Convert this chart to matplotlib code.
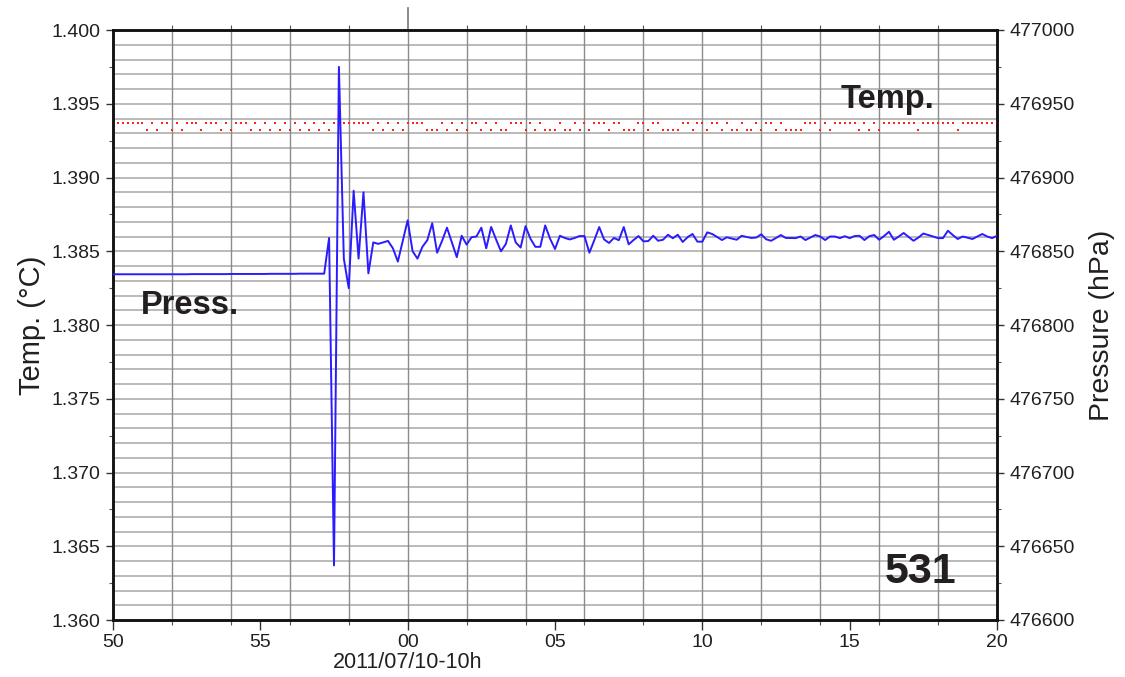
import numpy as np
import matplotlib
matplotlib.use("Agg")
import matplotlib.pyplot as plt
import matplotlib.transforms as mtransforms
from matplotlib.ticker import MultipleLocator, FixedLocator

plt.rcParams['font.family'] = ['Liberation Sans', 'DejaVu Sans']

# ---- data (10-second samples from 09:50:00 to 10:20:00) ----
x_tick_labels = ['50', '55', '00', '05', '10', '15', '20']
x_label = '2011/07/10-10h'

pressure_hpa = [
    476834.4, 476834.4, 476834.4, 476834.4, 476834.4, 476834.4, 476834.4, 476834.4, 476834.4, 476834.4,
    476834.4, 476834.4, 476834.4, 476834.4, 476834.4, 476834.4, 476834.5, 476834.5, 476834.5, 476834.5,
    476834.5, 476834.5, 476834.5, 476834.5, 476834.6, 476834.6, 476834.6, 476834.6, 476834.6, 476834.6,
    476834.6, 476834.6, 476834.7, 476834.7, 476834.7, 476834.7, 476834.7, 476834.7, 476834.8, 476834.8,
    476834.8, 476834.8, 476834.8, 476834.8,
    476859.0, 476637.0, 476975.0, 476845.0, 476825.0, 476891.0, 476845.0, 476890.0, 476835.0, 476856.0,
    476855.0, 476856.0, 476857.0, 476852.0, 476843.0, 476857.0, 476871.0, 476850.0, 476845.0, 476853.0,
    476857.5, 476869.0, 476849.0, 476857.0, 476866.0, 476856.0, 476846.0, 476860.5, 476854.5, 476859.5,
    476860.0, 476866.0, 476852.0, 476866.5, 476858.0, 476850.0, 476855.0, 476867.5, 476856.0, 476852.5,
    476867.0, 476858.5, 476853.0, 476853.0, 476867.5, 476858.5, 476851.5, 476860.5, 476859.0, 476858.0,
    476859.0, 476860.3, 476860.3, 476849.0, 476857.5, 476866.4, 476858.0, 476855.6, 476859.0, 476857.5,
    476866.4, 476854.7, 476857.6, 476860.3, 476856.7, 476856.9, 476860.5, 476857.1, 476857.8, 476861.2,
    476858.8, 476861.2, 476856.3, 476859.5, 476861.7, 476856.5, 476856.5, 476862.8, 476861.7, 476859.7,
    476857.6, 476859.5, 476858.6, 476857.8, 476860.5, 476859.7, 476859.0, 476859.3, 476861.5, 476858.1,
    476857.1, 476859.0, 476861.0, 476859.0, 476859.0, 476858.9, 476860.0, 476857.6, 476859.3, 476861.0,
    476860.0, 476857.6, 476860.0, 476860.0, 476858.9, 476860.2, 476858.9, 476860.3, 476860.5, 476857.6,
    476860.2, 476861.0, 476857.8, 476860.3, 476863.2, 476857.8, 476860.0, 476862.4, 476859.7, 476857.1,
    476859.3, 476862.0, 476861.0, 476860.0, 476858.9, 476858.9, 476863.9, 476861.0, 476858.3, 476860.0,
    476859.2, 476858.3, 476860.0, 476861.7, 476860.0, 476858.9, 476860.5,
]

T_HI = 1.39367
T_LO = 1.39320
temp_c = [
    T_HI, T_HI, T_HI, T_HI, T_HI, T_HI, T_HI, T_LO, T_HI, T_LO,   # 0-9
    T_HI, T_HI, T_LO, T_HI, T_LO, T_HI, T_HI, T_HI, T_LO, T_HI,   # 10-19
    T_HI, T_HI, T_LO, T_HI, T_LO, T_HI, T_HI, T_HI, T_LO, T_HI,   # 20-29
    T_LO, T_HI, T_LO, T_HI, T_LO, T_HI, T_LO, T_HI, T_LO, T_HI,   # 30-39
    T_LO, T_HI, T_LO, T_HI, T_LO, T_HI, T_HI, T_HI, T_HI, T_HI,   # 40-49
    T_HI, T_HI, T_HI, T_LO, T_HI, T_LO, T_HI, T_LO, T_HI, T_LO,   # 50-59
    T_HI, T_HI, T_HI, T_HI, T_LO, T_LO, T_LO, T_HI, T_LO, T_HI,   # 60-69
    T_LO, T_HI, T_LO, T_HI, T_HI, T_LO, T_HI, T_LO, T_HI, T_LO,   # 70-79
    T_LO, T_HI, T_HI, T_HI, T_LO, T_HI, T_LO, T_HI, T_LO, T_LO,   # 80-89
    T_LO, T_HI, T_LO, T_LO, T_HI, T_LO, T_HI, T_LO, T_HI, T_HI,   # 90-99
    T_HI, T_LO, T_HI, T_HI, T_LO, T_LO, T_LO, T_HI, T_HI, T_LO,   # 100-109
    T_HI, T_HI, T_LO, T_LO, T_LO, T_LO, T_HI, T_HI, T_LO, T_HI,   # 110-119
    T_HI, T_LO, T_HI, T_HI, T_LO, T_HI, T_LO, T_LO, T_HI, T_LO,   # 120-129
    T_LO, T_HI, T_LO, T_HI, T_HI, T_LO, T_HI, T_LO, T_LO, T_LO,   # 130-139
    T_LO, T_HI, T_HI, T_HI, T_LO, T_HI, T_LO, T_HI, T_HI, T_HI,   # 140-149
    T_HI, T_HI, T_LO, T_HI, T_LO, T_HI, T_LO, T_HI, T_HI, T_HI,   # 150-159
    T_HI, T_HI, T_HI, T_HI, T_LO, T_HI, T_HI, T_HI, T_HI, T_HI,   # 160-169
    T_HI, T_HI, T_LO, T_HI, T_HI, T_HI, T_HI, T_HI, T_HI, T_HI,   # 170-179
    T_HI,                                                         # 180
]

minutes = np.arange(len(pressure_hpa)) / 6.0   # minutes after 09:50

# ---- figure ----
W, H = 1125, 677
fig = plt.figure(figsize=(W / 100, H / 100), dpi=100)
L, R, T, B = 113, 997, 30, 620
ax = fig.add_axes([L / W, 1 - B / H, (R - L) / W, (B - T) / H])
ax2 = ax.twinx()

ax.set_xlim(0, 30)
ax.set_ylim(1.360, 1.400)
ax2.set_ylim(476600, 477000)

# grid
for yv in np.arange(1.361, 1.400, 0.001):
    ax.axhline(yv, color='#b4b4b4', lw=1.3, zorder=0)
for xv in np.arange(2, 30, 2):
    ax.axvline(xv, color='#8c8c8c', lw=1.0, zorder=0)

# data
ax.plot(minutes, temp_c, linestyle='none', marker='s', markersize=1.7,
        markeredgewidth=0, color='#ff2020', zorder=3, clip_on=True)
ax2.plot(minutes, pressure_hpa, color='#2a1cff', lw=1.4, zorder=3)
ax2.set_zorder(ax.get_zorder() + 1)
ax2.patch.set_visible(False)

# ticks
text_c = '#231f20'
ax.set_xticks(np.arange(0, 31, 5))
ax.set_xticklabels(x_tick_labels)
ax.xaxis.set_minor_locator(FixedLocator(np.arange(0, 31, 2)))
ax.set_yticks(np.arange(1.360, 1.4001, 0.005))
ax.set_yticklabels([f'{v:.3f}' for v in np.arange(1.360, 1.4001, 0.005)])
ax.yaxis.set_minor_locator(MultipleLocator(0.0025))
ax2.set_yticks(np.arange(476600, 477001, 50))
ax2.set_yticklabels([f'{v:d}' for v in range(476600, 477001, 50)])
ax2.yaxis.set_minor_locator(MultipleLocator(25))

ax.tick_params(axis='x', which='major', direction='out', length=7, width=1.0,
               labelsize=14, colors='#333333', labelcolor=text_c, pad=3, top=False)
ax.tick_params(axis='x', which='minor', direction='out', length=3.5, width=0.8,
               colors='#555555', top=True)
ax.tick_params(axis='y', which='major', direction='out', length=5, width=1.0,
               labelsize=14, colors='#333333', labelcolor=text_c, pad=4)
ax.tick_params(axis='y', which='minor', direction='out', length=3, width=0.8, colors='#555555')
ax2.tick_params(axis='y', which='major', direction='out', length=5, width=1.0,
                labelsize=14, colors='#333333', labelcolor=text_c, pad=4)
ax2.tick_params(axis='y', which='minor', direction='out', length=3, width=0.8, colors='#555555')

for a in (ax, ax2):
    for s in a.spines.values():
        s.set_linewidth(1.8)
        s.set_color('#111111')

# long tick marking the hour boundary at the top
trans = mtransforms.blended_transform_factory(ax.transData, ax.transAxes)
ax.plot([10, 10], [1.0, 1.0 + 22 / (B - T)], transform=trans, color='#777777',
        lw=1.2, clip_on=False, zorder=5)

# labels
ax.set_ylabel('Temp. (°C)', fontsize=21, color=text_c, labelpad=4)
ax2.set_ylabel('Pressure (hPa)', fontsize=20.5, color=text_c, labelpad=10)
ax.text(10, -0.072, x_label, transform=trans, ha='center', va='center',
        fontsize=15.5, color=text_c)

ax.text(0.823, 0.882, 'Temp.', transform=ax.transAxes, fontsize=23.5,
        fontweight='bold', color=text_c, ha='left', va='center')
ax.text(0.031, 0.533, 'Press.', transform=ax.transAxes, fontsize=23.5,
        fontweight='bold', color=text_c, ha='left', va='center')
ax.text(0.873, 0.082, '531', transform=ax.transAxes, fontsize=31,
        fontweight='bold', color=text_c, ha='left', va='center')

fig.savefig('out.png', dpi=100)
